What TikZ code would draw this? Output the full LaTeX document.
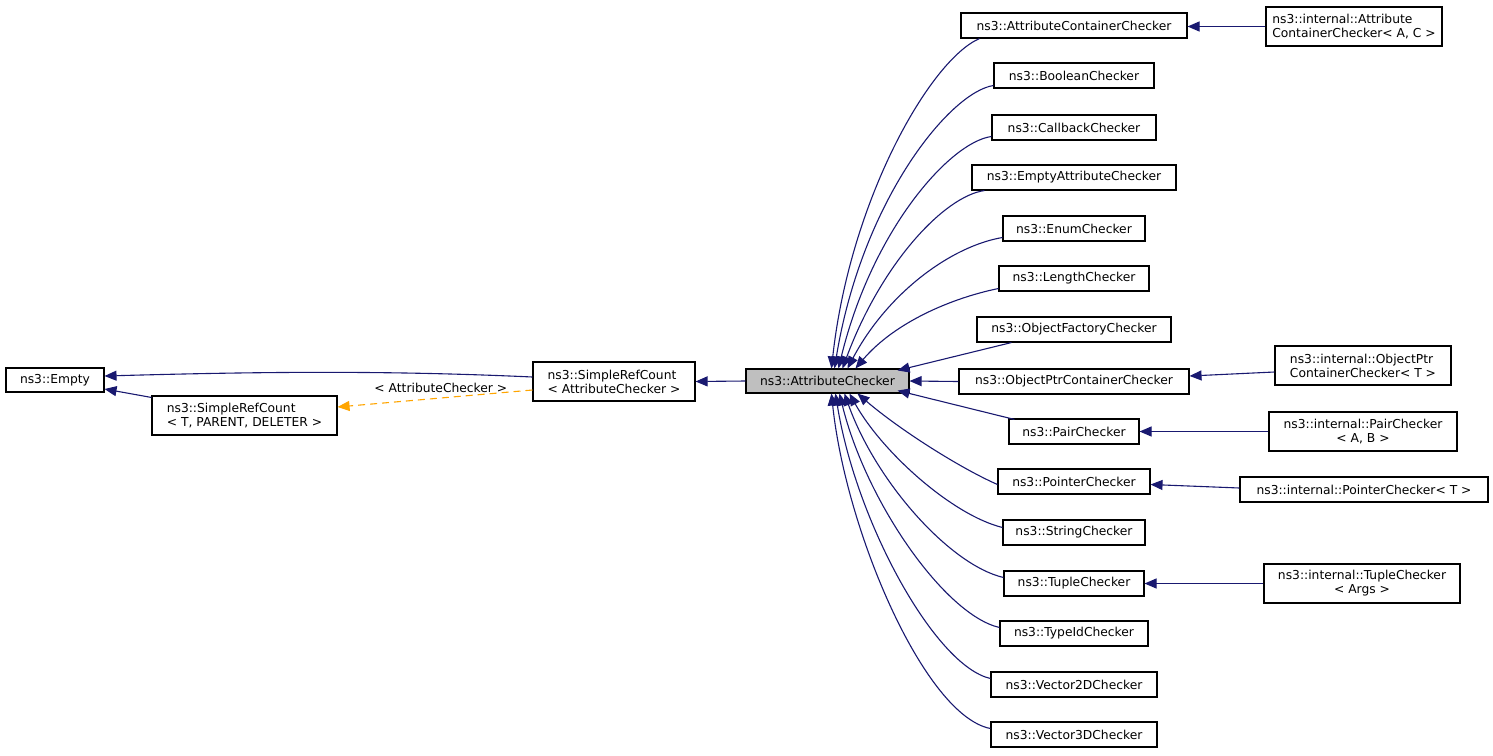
\documentclass[tikz,border=0pt]{standalone}
\usepackage{fontspec}
\setmainfont{DejaVu Sans}
\usetikzlibrary{arrows.meta}
\definecolor{navy}{HTML}{191970}
\definecolor{dorange}{HTML}{FFA500}
\definecolor{boxgray}{HTML}{BFBFBF}
\begin{document}
\begin{tikzpicture}[x=1pt,y=-1pt,
  box/.style={draw=black, line width=1.1pt, inner sep=0pt, minimum height=25, font=\fontsize{12.3}{14}\selectfont},
  tall/.style={box, minimum height=39},
  inh/.style={draw=navy, line width=1.1pt, -{Triangle[length=12pt,width=10pt]}, color=navy},
  tmpl/.style={draw=dorange, line width=1.1pt, dash pattern=on 7pt off 5pt, -{Triangle[length=12pt,width=10pt]}, color=dorange}]
\useasboundingbox (0,0) rectangle (1493,755);
% left part
\node[box, minimum width=98, minimum height=24] (empty) at (55,380) {ns3::Empty};
\node[tall, minimum width=185, align=left] (srct) at (244.5,415.5) {ns3::SimpleRefCount\\< T, PARENT, DELETER >};
\node[tall, minimum width=162, align=left] (srcac) at (614,381.5) {ns3::SimpleRefCount\\< AttributeChecker >};
\node[box, minimum width=163, minimum height=24, fill=boxgray] (ac) at (827.5,381) {ns3::AttributeChecker};
% middle column
\node[box, minimum width=226] (acc) at (1074,25.5) {ns3::AttributeContainerChecker};
\node[box, minimum width=160] (bool) at (1074,75.5) {ns3::BooleanChecker};
\node[box, minimum width=164] (cb) at (1074,127.5) {ns3::CallbackChecker};
\node[box, minimum width=204] (eac) at (1074,177.5) {ns3::EmptyAttributeChecker};
\node[box, minimum width=142] (enum) at (1074,228.5) {ns3::EnumChecker};
\node[box, minimum width=150] (len) at (1074,278.5) {ns3::LengthChecker};
\node[box, minimum width=194] (ofc) at (1074,329.5) {ns3::ObjectFactoryChecker};
\node[box, minimum width=230] (opc) at (1074,381.5) {ns3::ObjectPtrContainerChecker};
\node[box, minimum width=130] (pair) at (1074,431.5) {ns3::PairChecker};
\node[box, minimum width=152] (ptr) at (1074,481.5) {ns3::PointerChecker};
\node[box, minimum width=142] (str) at (1074,532.5) {ns3::StringChecker};
\node[box, minimum width=140] (tup) at (1074,583.5) {ns3::TupleChecker};
\node[box, minimum width=148] (tid) at (1074,633.5) {ns3::TypeIdChecker};
\node[box, minimum width=166] (v2) at (1074,684.5) {ns3::Vector2DChecker};
\node[box, minimum width=166] (v3) at (1074,734.5) {ns3::Vector3DChecker};
% right column
\node[tall, minimum width=176, align=left] (iacc) at (1354,26.5) {ns3::internal::Attribute\\ContainerChecker< A, C >};
\node[tall, minimum width=176, align=left] (iopc) at (1363,365.5) {ns3::internal::ObjectPtr\\ContainerChecker< T >};
\node[tall, minimum width=188, align=center] (ipair) at (1363,431.5) {ns3::internal::PairChecker\\< A, B >};
\node[box, minimum width=248] (iptr) at (1364,489.5) {ns3::internal::PointerChecker< T >};
\node[tall, minimum width=196, align=center] (itup) at (1362,583.5) {ns3::internal::TupleChecker\\< Args >};
% left edges
\draw[inh] ([yshift=4.5]srcac.west) .. controls (380,370) and (250,372) .. ([yshift=4]empty.east);
\draw[inh] ([yshift=-2]srct.north west) -- ([yshift=-9]empty.east);
\draw[tmpl] ([yshift=-8.5]srcac.west) -- node[above, pos=0.47, yshift=1, text=black, font=\fontsize{12.3}{14}\selectfont] {< AttributeChecker >} ([yshift=8.5]srct.east);
\draw[inh] (ac.west) -- (srcac.east);
% upper curves
\draw[inh] ([xshift=19]acc.south west) .. controls (930,60) and (850,200) .. ([xshift=86]ac.north west);
\draw[inh] ([yshift=-10]bool.west) .. controls (950,92) and (862,200) .. ([xshift=89]ac.north west);
\draw[inh] ([yshift=-9]cb.west) .. controls (950,142) and (872,230) .. ([xshift=93]ac.north west);
\draw[inh] ([xshift=13]eac.south west) .. controls (945,196) and (882,262) .. ([xshift=97]ac.north west);
\draw[inh] ([yshift=-9]enum.west) .. controls (952,246) and (888,292) .. ([xshift=102]ac.north west);
\draw[inh] ([yshift=-10]len.west) .. controls (952,298) and (895,322) .. ([xshift=110]ac.north west);
\draw[inh] ([xshift=35]ofc.south west) -- ([xshift=-12,yshift=-2]ac.north east);
\draw[inh] (opc.west) -- (ac.east);
\draw[inh] ([xshift=6,yshift=-1]pair.north west) -- ([xshift=-12,yshift=3]ac.south east);
% lower curves
\draw[inh] ([yshift=-3]ptr.west) .. controls (960,468) and (900,430) .. ([xshift=112]ac.south west);
\draw[inh] ([yshift=5]str.west) .. controls (952,515) and (882,452) .. ([xshift=104]ac.south west);
\draw[inh] ([yshift=6]tup.west) .. controls (950,565) and (876,482) .. ([xshift=99]ac.south west);
\draw[inh] ([yshift=6]tid.west) .. controls (945,615) and (866,502) .. ([xshift=94]ac.south west);
\draw[inh] ([yshift=6]v2.west) .. controls (935,666) and (856,522) .. ([xshift=90]ac.south west);
\draw[inh] ([yshift=6]v3.west) .. controls (925,716) and (846,532) .. ([xshift=86]ac.south west);
% right edges
\draw[inh] (iacc.west) -- ([yshift=-1]acc.east);
\draw[inh] ([yshift=-6.5]iopc.west) -- ([yshift=5.5]opc.east);
\draw[inh] (ipair.west) -- (pair.east);
\draw[inh] ([yshift=1.5]iptr.west) -- ([yshift=-3]ptr.east);
\draw[inh] (itup.west) -- (tup.east);
\end{tikzpicture}
\end{document}
